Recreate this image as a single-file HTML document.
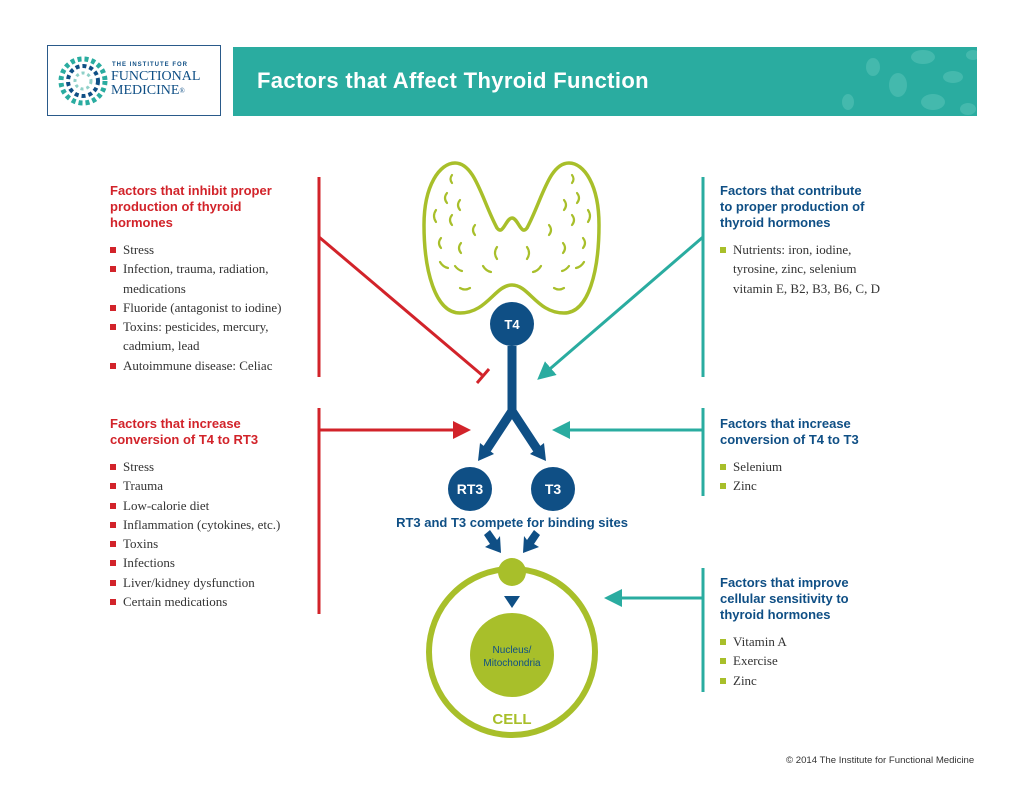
<!DOCTYPE html>
<html><head><meta charset="utf-8"><style>
body{margin:0;width:1024px;height:791px;background:#fff;position:relative;overflow:hidden;font-family:"Liberation Sans",sans-serif}
.a{position:absolute}
.h{font-weight:bold;font-size:13px;line-height:16px}
.r{color:#d2232a}.t{color:#0f4f85}
ul{list-style:none;margin:0;padding:0;font-family:"Liberation Serif",serif;font-size:13px;line-height:19.3px;color:#333}
li{padding-left:13px;position:relative}
li:before{content:"";position:absolute;left:0;top:7px;width:6px;height:6px;background:#d2232a}
ul.g li:before{background:#a8bf2a}
</style></head><body>
<div class="a" style="left:47px;top:45px;width:172px;height:69px;border:1px solid #2a5a8a"></div>
<svg class="a" style="left:58px;top:56px" width="50" height="50">
<g fill="#1f6f9a"><circle cx="25" cy="25" r="22" fill="none" stroke="#2aaca0" stroke-width="5" stroke-dasharray="4 3"/><circle cx="25" cy="25" r="15" fill="none" stroke="#0f4f85" stroke-width="4" stroke-dasharray="4 3"/><circle cx="25" cy="25" r="8" fill="none" stroke="#8fd0c8" stroke-width="3" stroke-dasharray="3 3"/></g></svg>
<div class="a" style="left:112px;top:62px;font-size:6px;font-weight:bold;letter-spacing:1px;color:#0f4f85">THE INSTITUTE FOR</div>
<div class="a" style="left:111px;top:70px;font-family:'Liberation Serif',serif;font-size:14px;line-height:14px;color:#0f4f85">FUNCTIONAL<br>MEDICINE<span style="font-size:7px;vertical-align:top">®</span></div>
<div class="a" style="left:233px;top:47px;width:744px;height:69px;background:#2aaca0;overflow:hidden">
<svg width="744" height="69" style="position:absolute;left:0;top:0"><g fill="#4fbfb3" opacity=".7">
<ellipse cx="690" cy="10" rx="12" ry="7"/><ellipse cx="720" cy="30" rx="10" ry="6"/><ellipse cx="665" cy="38" rx="9" ry="12"/><ellipse cx="700" cy="55" rx="12" ry="8"/><ellipse cx="640" cy="20" rx="7" ry="9"/><ellipse cx="735" cy="62" rx="8" ry="6"/><ellipse cx="615" cy="55" rx="6" ry="8"/><ellipse cx="740" cy="8" rx="7" ry="5"/></g></svg>
<div style="position:absolute;left:24px;top:21px;color:#fff;font-size:22px;font-weight:bold;letter-spacing:0.35px">Factors that Affect Thyroid Function</div></div>

<svg class="a" style="left:0;top:0" width="1024" height="791">
<defs>
<marker id="ar" markerWidth="6" markerHeight="6" refX="3" refY="3" orient="auto" markerUnits="strokeWidth"><path d="M0,0L6,3L0,6z" fill="#d2232a"/></marker>
<marker id="at" markerWidth="6" markerHeight="6" refX="3" refY="3" orient="auto" markerUnits="strokeWidth"><path d="M0,0L6,3L0,6z" fill="#2aaca0"/></marker>
</defs>
<g stroke="#d2232a" stroke-width="3" fill="none">
<line x1="319" y1="177" x2="319" y2="377"/><line x1="319" y1="408" x2="319" y2="614"/>
<line x1="319" y1="237" x2="482" y2="375"/><line x1="477" y1="383" x2="489" y2="369"/>
<line x1="319" y1="430" x2="462" y2="430" marker-end="url(#ar)"/>
</g>
<g stroke="#2aaca0" stroke-width="3" fill="none">
<line x1="703" y1="177" x2="703" y2="377"/><line x1="703" y1="408" x2="703" y2="496"/><line x1="703" y1="568" x2="703" y2="692"/>
<line x1="703" y1="237" x2="544" y2="374" marker-end="url(#at)"/>
<line x1="703" y1="430" x2="561" y2="430" marker-end="url(#at)"/>
<line x1="703" y1="598" x2="613" y2="598" marker-end="url(#at)"/>
</g>
<path d="M512,285 C495,285 487,313 460,313 C435,313 424,270 424,225 C424,185 440,163 455,163 C475,163 482,200 497,228 C503,236 506,218 512,218 C518,218 521,236 527,228 C542,200 549,163 569,163 C584,163 599,185 599,225 C599,270 589,313 564,313 C537,313 529,285 512,285 Z" fill="none" stroke="#a8bf2a" stroke-width="3.5"/>
<g stroke="#a8bf2a" stroke-width="2.2" fill="none" stroke-linecap="round">
<path d="M452,175 q-3,4 0,8"/><path d="M447,193 q-4,5 0,10"/><path d="M460,200 q-4,5 0,10"/><path d="M436,210 q-4,6 0,12"/><path d="M452,215 q-4,5 0,10"/><path d="M475,225 q-4,5 0,10"/><path d="M441,238 q-4,5 0,10"/><path d="M461,243 q-4,5 0,10"/><path d="M497,247 q-4,6 0,12"/><path d="M440,262 q3,5 8,6"/><path d="M455,266 q3,4 7,5"/><path d="M483,266 q3,5 8,6"/><path d="M460,288 q5,3 10,0"/>
<path d="M572,175 q3,4 0,8"/><path d="M577,193 q4,5 0,10"/><path d="M564,200 q4,5 0,10"/><path d="M588,210 q4,6 0,12"/><path d="M572,215 q4,5 0,10"/><path d="M549,225 q4,5 0,10"/><path d="M583,238 q4,5 0,10"/><path d="M563,243 q4,5 0,10"/><path d="M527,247 q4,6 0,12"/><path d="M584,262 q-3,5 -8,6"/><path d="M569,266 q-3,4 -7,5"/><path d="M541,266 q-3,5 -8,6"/><path d="M564,288 q-5,3 -10,0"/>
</g>
<g fill="#0f4f85" stroke="#0f4f85">
<line x1="512" y1="346" x2="512" y2="415" stroke-width="9"/>
<path d="M512,411 L487,449 M512,411 L537,449" stroke-width="9" fill="none" stroke-linejoin="round"/>
<path d="M478,461 L480,443 L494,454 Z" stroke="none"/>
<path d="M546,461 L544,443 L530,454 Z" stroke="none"/>
<circle cx="512" cy="324" r="22" stroke="none"/>
<circle cx="470" cy="489" r="22" stroke="none"/>
<circle cx="553" cy="489" r="22" stroke="none"/>
<path d="M484,535 L490,530 L497,540 L500,536 L501,553 L485,547 L490,544 Z" stroke="none"/>
<path d="M540,535 L534,530 L527,540 L524,536 L523,553 L539,547 L534,544 Z" stroke="none"/>
<path d="M504,596 L520,596 L512,608 Z" stroke="none"/>
</g>
<circle cx="512" cy="652" r="83" fill="none" stroke="#a8bf2a" stroke-width="6"/>
<circle cx="512" cy="572" r="14" fill="#a8bf2a"/>
<circle cx="512" cy="655" r="42" fill="#a8bf2a"/>
<g font-family="Liberation Sans,sans-serif" font-weight="bold" text-anchor="middle">
<text x="512" y="329" fill="#fff" font-size="13">T4</text>
<text x="470" y="494" fill="#fff" font-size="14">RT3</text>
<text x="553" y="494" fill="#fff" font-size="14">T3</text>
<text x="512" y="527" fill="#0f4f85" font-size="13">RT3 and T3 compete for binding sites</text>
<text x="512" y="724" fill="#a8bf2a" font-size="15">CELL</text>
<text x="512" y="653" fill="#0f4f85" font-size="10" font-weight="normal">Nucleus/</text>
<text x="512" y="666" fill="#0f4f85" font-size="10" font-weight="normal">Mitochondria</text>
</g>
</svg>

<div class="a h r" style="left:110px;top:183px">Factors that inhibit proper<br>production of thyroid<br>hormones</div>
<ul class="a" style="left:110px;top:240px;width:200px">
<li>Stress</li><li>Infection, trauma, radiation,<br>medications</li><li>Fluoride (antagonist to iodine)</li><li>Toxins: pesticides, mercury,<br>cadmium, lead</li><li>Autoimmune disease: Celiac</li></ul>
<div class="a h r" style="left:110px;top:416px">Factors that increase<br>conversion of T4 to RT3</div>
<ul class="a" style="left:110px;top:457px;width:200px">
<li>Stress</li><li>Trauma</li><li>Low-calorie diet</li><li>Inflammation (cytokines, etc.)</li><li>Toxins</li><li>Infections</li><li>Liver/kidney dysfunction</li><li>Certain medications</li></ul>
<div class="a h t" style="left:720px;top:183px">Factors that contribute<br>to proper production of<br>thyroid hormones</div>
<ul class="a g" style="left:720px;top:240px;width:200px">
<li>Nutrients: iron, iodine,<br>tyrosine, zinc, selenium<br>vitamin E, B2, B3, B6, C, D</li></ul>
<div class="a h t" style="left:720px;top:416px">Factors that increase<br>conversion of T4 to T3</div>
<ul class="a g" style="left:720px;top:457px;width:200px"><li>Selenium</li><li>Zinc</li></ul>
<div class="a h t" style="left:720px;top:575px">Factors that improve<br>cellular sensitivity to<br>thyroid hormones</div>
<ul class="a g" style="left:720px;top:632px;width:200px"><li>Vitamin A</li><li>Exercise</li><li>Zinc</li></ul>
<div class="a" style="left:786px;top:755px;font-size:9.6px;color:#333;white-space:nowrap">© 2014 The Institute for Functional Medicine</div>
</body></html>
